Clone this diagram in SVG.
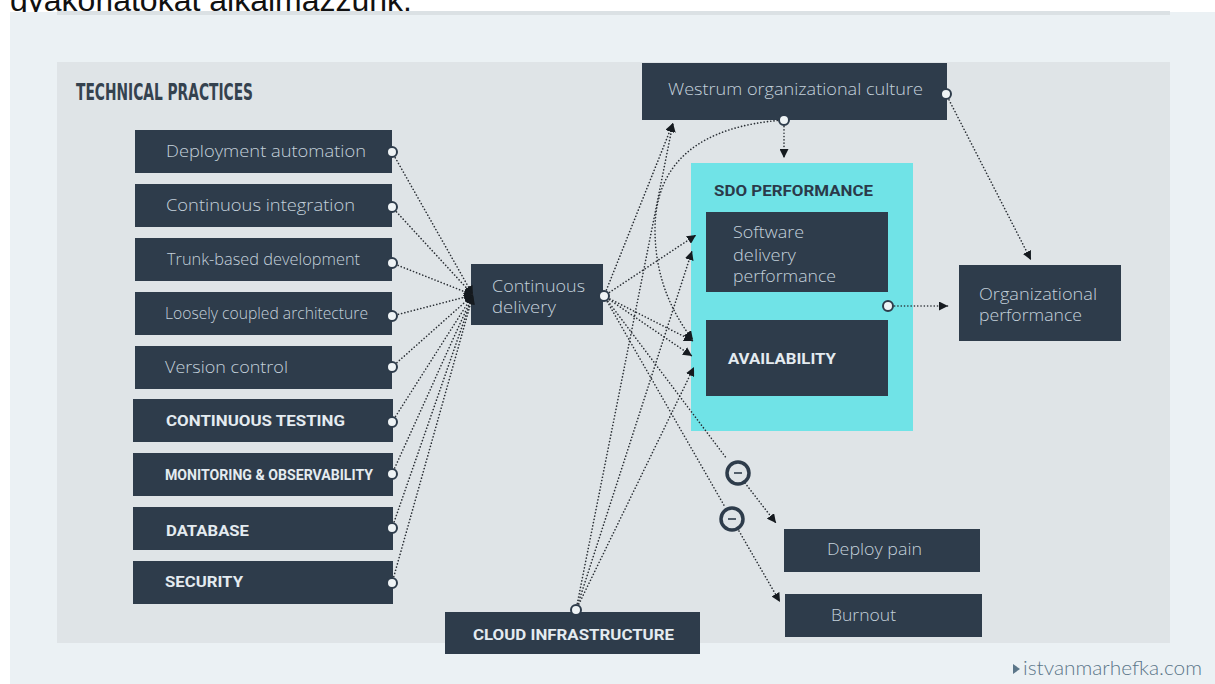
<svg xmlns="http://www.w3.org/2000/svg" width="1215" height="684" viewBox="0 0 1215 684">
<defs>
<style>
.box{fill:#2e3c4b}
.lt{font-family:"Open Sans","Noto Sans",sans-serif;font-weight:300;font-size:17px;fill:#c4d1db}
.bd{font-family:Roboto,"Liberation Sans",sans-serif;font-weight:700;font-size:15.5px;fill:#e4ebf0}
.dk{fill:#2b3a4a}
.dot{fill:none;stroke:#2a2f35;stroke-width:1.6;stroke-linecap:round;stroke-dasharray:0.1 3.2}
.port{fill:#eef3f5;stroke:#2e3c4b;stroke-width:2}
.minus{fill:#dfe4e7;stroke:#2e3c4b;stroke-width:3.5}
.mbar{stroke:#2e3c4b;stroke-width:1.6}
</style>
<marker id="ah" markerUnits="userSpaceOnUse" markerWidth="10" markerHeight="9" refX="9" refY="4.5" orient="auto">
<path d="M0,0 L9,4.5 L0,9 z" fill="#151a1f"/>
</marker>
</defs>
<rect width="1215" height="684" fill="#ffffff"/>
<text x="10" y="11" font-family="Liberation Sans, Arial, sans-serif" font-size="32" fill="#111">gyakorlatokat alkalmazzunk.</text>
<rect x="10" y="12" width="1205" height="672" fill="#ebf1f4"/>
<rect x="57" y="11" width="1113" height="4" fill="#dbe1e4"/>
<rect x="57" y="62" width="1113" height="581" fill="#dfe4e7"/>
<text x="76" y="100" font-family="DejaVu Sans Condensed, Roboto, sans-serif" font-weight="700" font-size="23" fill="#35424f" textLength="177" lengthAdjust="spacingAndGlyphs">TECHNICAL PRACTICES</text>

<g id="n-deployment-automation"><rect class="box" x="135" y="130" width="257" height="43"/><text class="lt" x="166" y="157" textLength="200" lengthAdjust="spacingAndGlyphs">Deployment automation</text></g>
<g id="n-continuous-integration"><rect class="box" x="135" y="184" width="257" height="43"/><text class="lt" x="166" y="211" textLength="189" lengthAdjust="spacingAndGlyphs">Continuous integration</text></g>
<g id="n-trunk-based"><rect class="box" x="135" y="238" width="257" height="43"/><text class="lt" x="167" y="265" textLength="193" lengthAdjust="spacingAndGlyphs">Trunk-based development</text></g>
<g id="n-loosely-coupled"><rect class="box" x="135" y="292" width="257" height="43"/><text class="lt" x="165" y="319" textLength="203" lengthAdjust="spacingAndGlyphs">Loosely coupled architecture</text></g>
<g id="n-version-control"><rect class="box" x="135" y="346" width="257" height="43"/><text class="lt" x="165" y="373" textLength="123" lengthAdjust="spacingAndGlyphs">Version control</text></g>
<g id="n-continuous-testing"><rect class="box" x="133" y="399" width="260" height="43"/><text class="bd" x="166" y="426" textLength="179" lengthAdjust="spacingAndGlyphs">CONTINUOUS TESTING</text></g>
<g id="n-monitoring"><rect class="box" x="133" y="453" width="260" height="43"/><text class="bd" x="165" y="480" font-size="14" textLength="208" lengthAdjust="spacingAndGlyphs">MONITORING &amp; OBSERVABILITY</text></g>
<g id="n-database"><rect class="box" x="133" y="507" width="260" height="43"/><text class="bd" x="166" y="536" textLength="83" lengthAdjust="spacingAndGlyphs">DATABASE</text></g>
<g id="n-security"><rect class="box" x="133" y="561" width="260" height="43"/><text class="bd" x="165" y="587" textLength="78" lengthAdjust="spacingAndGlyphs">SECURITY</text></g>

<g id="n-continuous-delivery"><rect class="box" x="471" y="264" width="132" height="61"/><text class="lt" x="492" y="292" textLength="93" lengthAdjust="spacingAndGlyphs">Continuous</text><text class="lt" x="492" y="313" textLength="64" lengthAdjust="spacingAndGlyphs">delivery</text></g>

<g id="n-westrum"><rect class="box" x="642" y="63" width="305" height="57"/><text class="lt" x="668" y="95" textLength="255" lengthAdjust="spacingAndGlyphs">Westrum organizational culture</text></g>

<g id="n-sdo"><rect x="691" y="163" width="222" height="268" fill="#70e3e7"/><text class="bd dk" x="714" y="196" style="fill:#2b3a4a" textLength="159" lengthAdjust="spacingAndGlyphs">SDO PERFORMANCE</text></g>
<g id="n-software-delivery"><rect class="box" x="706" y="212" width="182" height="80"/><text class="lt" x="733" y="238" textLength="71" lengthAdjust="spacingAndGlyphs">Software</text><text class="lt" x="733" y="261" textLength="63" lengthAdjust="spacingAndGlyphs">delivery</text><text class="lt" x="733" y="282" textLength="103" lengthAdjust="spacingAndGlyphs">performance</text></g>
<g id="n-availability"><rect class="box" x="706" y="320" width="182" height="76"/><text class="bd" x="728" y="364" textLength="108" lengthAdjust="spacingAndGlyphs">AVAILABILITY</text></g>

<g id="n-org-performance"><rect class="box" x="959" y="265" width="162" height="76"/><text class="lt" x="979" y="300" textLength="118" lengthAdjust="spacingAndGlyphs">Organizational</text><text class="lt" x="979" y="321" textLength="103" lengthAdjust="spacingAndGlyphs">performance</text></g>

<g id="n-deploy-pain"><rect class="box" x="784" y="529" width="196" height="43"/><text class="lt" x="827" y="555" textLength="95" lengthAdjust="spacingAndGlyphs">Deploy pain</text></g>
<g id="n-burnout"><rect class="box" x="785" y="594" width="197" height="43"/><text class="lt" x="831" y="621" textLength="65" lengthAdjust="spacingAndGlyphs">Burnout</text></g>

<g id="n-cloud"><rect class="box" x="445" y="612" width="255" height="42"/><text class="bd" x="473" y="640" textLength="201" lengthAdjust="spacingAndGlyphs">CLOUD INFRASTRUCTURE</text></g>

<g id="connectors">
<path class="dot" marker-end="url(#ah)" d="M392,152 L473,295"/>
<path class="dot" marker-end="url(#ah)" d="M392,207 L473,295"/>
<path class="dot" marker-end="url(#ah)" d="M392,263 L473,295"/>
<path class="dot" marker-end="url(#ah)" d="M392,316 L473,295"/>
<path class="dot" marker-end="url(#ah)" d="M392,367 L473,295"/>
<path class="dot" marker-end="url(#ah)" d="M392,422 L473,295"/>
<path class="dot" marker-end="url(#ah)" d="M392,474 L473,295"/>
<path class="dot" marker-end="url(#ah)" d="M392,528 L473,295"/>
<path class="dot" marker-end="url(#ah)" d="M392,583 L473,295"/>
<path class="dot" marker-end="url(#ah)" d="M604,296 L673,123"/>
<path class="dot" marker-end="url(#ah)" d="M604,296 L696,235"/>
<path class="dot" marker-end="url(#ah)" d="M604,296 L693,341"/>
<path class="dot" marker-end="url(#ah)" d="M604,296 L692,356"/>
<path class="dot" d="M604,296 L727,459"/>
<path class="dot" marker-end="url(#ah)" d="M745,483 L776,523"/>
<path class="dot" d="M604,296 L725,507"/>
<path class="dot" marker-end="url(#ah)" d="M739,531 L780,602"/>
<path class="dot" marker-end="url(#ah)" d="M576,610 L673,123"/>
<path class="dot" marker-end="url(#ah)" d="M576,610 L692,251"/>
<path class="dot" marker-end="url(#ah)" d="M576,610 L694,367"/>
<path class="dot" marker-end="url(#ah)" d="M784,120 C700,126 655,162 655,230 C655,282 676,318 693,340"/>
<path class="dot" marker-end="url(#ah)" d="M784,120 L784,158"/>
<path class="dot" marker-end="url(#ah)" d="M946,94 L1031,260"/>
<path class="dot" marker-end="url(#ah)" d="M888,306 L948,306"/>
</g>

<g id="ports">
<circle class="port" cx="392" cy="152" r="5"/>
<circle class="port" cx="392" cy="207" r="5"/>
<circle class="port" cx="392" cy="263" r="5"/>
<circle class="port" cx="392" cy="316" r="5"/>
<circle class="port" cx="392" cy="367" r="5"/>
<circle class="port" cx="392" cy="422" r="5"/>
<circle class="port" cx="392" cy="474" r="5"/>
<circle class="port" cx="392" cy="528" r="5"/>
<circle class="port" cx="392" cy="583" r="5"/>
<circle class="port" cx="604" cy="296" r="5"/>
<circle class="port" cx="946" cy="94" r="5"/>
<circle class="port" cx="784" cy="120" r="5"/>
<circle class="port" cx="888" cy="306" r="5"/>
<circle class="port" cx="576" cy="610" r="5"/>
</g>

<g id="minus-signs">
<circle class="minus" cx="738" cy="473" r="11"/><line class="mbar" x1="734" y1="473" x2="742" y2="473"/>
<circle class="minus" cx="732" cy="519" r="11"/><line class="mbar" x1="728" y1="519" x2="736" y2="519"/>
</g>

<g id="credit">
<path d="M1013,664 L1020,669 L1013,674 z" fill="#5b7689"/>
<text x="1023" y="675" font-family="Lato, 'Open Sans', sans-serif" font-weight="300" font-size="20" fill="#5b7689" textLength="179" lengthAdjust="spacingAndGlyphs">istvanmarhefka.com</text>
</g>
</svg>
